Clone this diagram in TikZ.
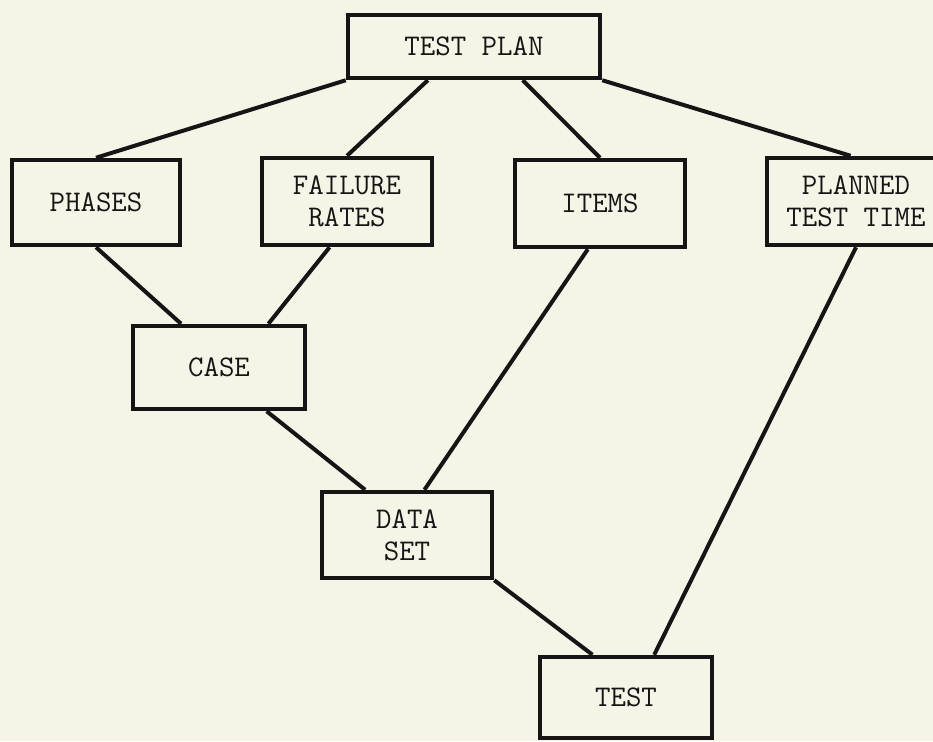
\documentclass[tikz,border=0pt]{standalone}
\usetikzlibrary{calc}
\definecolor{paper}{RGB}{246,244,230}
\definecolor{ink}{RGB}{22,20,20}
\begin{document}
\begin{tikzpicture}[x=1pt,y=-1pt,
  box/.style={draw=ink,line width=4.5pt,fill=paper,align=center,inner sep=0pt,
    text=ink,font=\ttfamily\fontsize{30}{32}\selectfont},
  link/.style={draw=ink,line width=4pt}]
\fill[paper] (0,0) rectangle (933,741);
\useasboundingbox (0,0) rectangle (933,741);
\clip (0,0) rectangle (933,741);
% nodes
\node[box,minimum width=252pt,minimum height=63pt] (plan) at (474,46.5) {TEST PLAN};
\node[box,minimum width=168pt,minimum height=85pt] (phases) at (96,202.5) {PHASES};
\node[box,minimum width=170pt,minimum height=87pt] (fail) at (347,201.5) {FAILURE\\RATES};
\node[box,minimum width=170pt,minimum height=87pt] (items) at (600,203.5) {ITEMS};
\node[box,minimum width=178pt,minimum height=87pt] (planned) at (856,201.5) {PLANNED\\TEST TIME};
\node[box,minimum width=172pt,minimum height=83pt] (case) at (219,367.5) {CASE};
\node[box,minimum width=170pt,minimum height=86pt] (data) at (407,535) {DATA\\SET};
\node[box,minimum width=172pt,minimum height=81pt] (test) at (626,697.5) {TEST};
% connectors
\draw[link] (plan.south west) -- (phases.north);
\draw[link] ($(plan.south west)!0.32!(plan.south east)$) -- (fail.north);
\draw[link] ($(plan.south west)!0.69!(plan.south east)$) -- (items.north);
\draw[link] (plan.south east) -- ($(planned.north west)!0.47!(planned.north east)$);
\draw[link] (phases.south) -- ($(case.north west)!0.285!(case.north east)$);
\draw[link] ($(fail.south west)!0.4!(fail.south east)$) -- ($(case.north west)!0.78!(case.north east)$);
\draw[link] ($(items.south west)!0.43!(items.south east)$) -- ($(data.north west)!0.6!(data.north east)$);
\draw[link] (planned.south) -- ($(test.north west)!0.66!(test.north east)$);
\draw[link] ($(case.south west)!0.77!(case.south east)$) -- ($(data.north west)!0.26!(data.north east)$);
\draw[link] (data.south east) -- ($(test.north west)!0.31!(test.north east)$);
\end{tikzpicture}
\end{document}
